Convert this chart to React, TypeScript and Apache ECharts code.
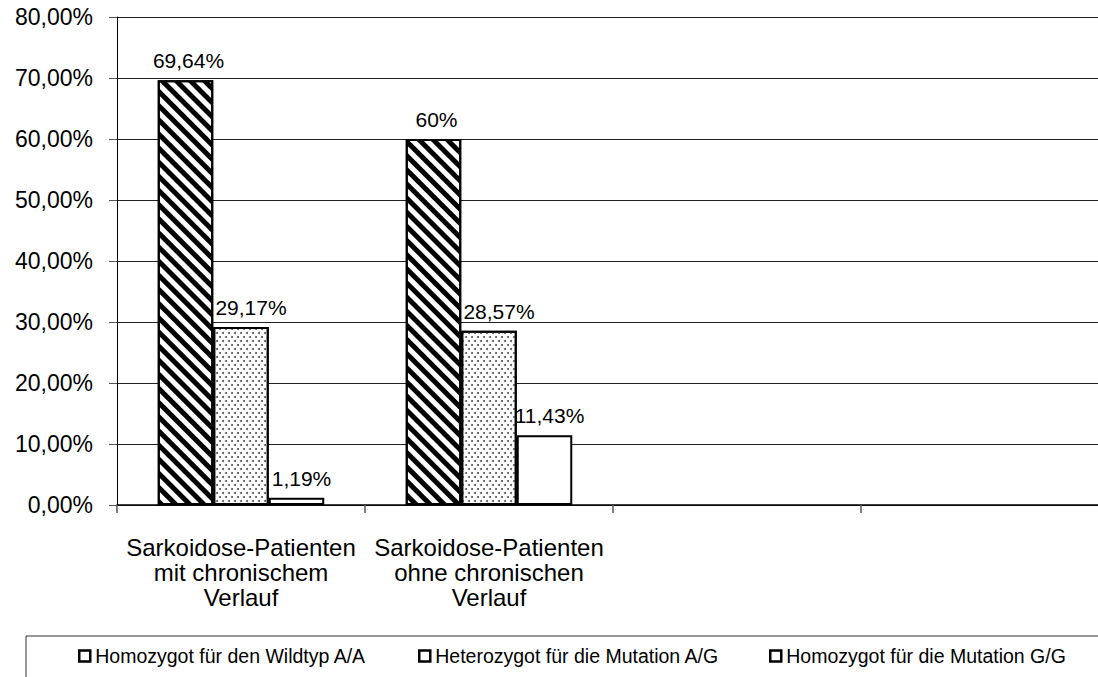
import React, { useEffect, useRef } from "react";
import * as echarts from "echarts";

const categories = [
  "Sarkoidose-Patienten\nmit chronischem\nVerlauf",
  "Sarkoidose-Patienten\nohne chronischen\nVerlauf",
  "",
  "",
];
const seriesNames = [
  "Homozygot für den Wildtyp A/A",
  "Heterozygot für die Mutation A/G",
  "Homozygot für die Mutation G/G",
];
const wildtypAA = [69.64, 60, null, null];
const heteroAG = [29.17, 28.57, null, null];
const homoGG = [1.19, 11.43, null, null];
const wildtypLabels = ["69,64%", "60%", "", ""];
const heteroLabels = ["29,17%", "28,57%", "", ""];
const homoLabels = ["1,19%", "11,43%", "", ""];
const yTicks = [0, 10, 20, 30, 40, 50, 60, 70, 80];

const FONT = "'Liberation Sans', Arial, Helvetica, sans-serif";

export default function App() {
  const ref = useRef<HTMLDivElement>(null);
  useEffect(() => {
    if (!ref.current) return;
    const chart = echarts.init(ref.current, null, { renderer: "svg" });
    const stripeDecal = {
      symbol: "rect",
      symbolSize: 1,
      color: "#000",
      backgroundColor: "#fff",
      dashArrayX: [1, 0],
      dashArrayY: [5, 5],
      rotation: Math.PI / 4,
    };
    const dotDecal = {
      symbol: "circle",
      symbolSize: 1,
      color: "#555",
      backgroundColor: "#fff",
      dashArrayX: [
        [2, 4],
        [0, 3, 2, 1],
      ],
      dashArrayY: [2, 2],
      rotation: 0,
    };
    const mkLabel = (labels: string[], dx: number) => ({
      show: true,
      position: "top",
      distance: 9,
      offset: [dx, 0],
      fontSize: 21,
      fontFamily: FONT,
      color: "#000",
      formatter: (p: any) => labels[p.dataIndex],
    });
    const base = {
      type: "bar",
      barWidth: 55.5,
      barGap: "0%",
    };
    const legendAt = (name: string, left: number) => ({
      show: true,
      left,
      top: 646,
      padding: 0,
      icon: "rect",
      itemWidth: 11,
      itemHeight: 11,
      itemGap: 6,
      selectedMode: false,
      textStyle: { fontSize: 19.5, fontFamily: FONT, color: "#000" },
      data: [
        {
          name,
          itemStyle: { color: "#fff", borderColor: "#000", borderWidth: 2.5, decal: "none" },
        },
      ],
    });
    chart.setOption({
      animation: false,
      textStyle: { fontFamily: FONT },
      grid: {
        left: 117,
        top: 17,
        width: 992,
        bottom: 172,
        containLabel: false,
        outerBoundsMode: "none",
      },
      legend: [
        legendAt(seriesNames[0], 78),
        legendAt(seriesNames[1], 418),
        legendAt(seriesNames[2], 769),
      ],
      xAxis: {
        type: "category",
        data: categories,
        axisLine: { show: true, lineStyle: { color: "#000", width: 1.5 } },
        axisTick: { show: true, length: 8, lineStyle: { color: "#555", width: 1.5 } },
        axisLabel: {
          interval: 0,
          margin: 30,
          fontSize: 24,
          lineHeight: 25,
          color: "#000",
          fontFamily: FONT,
        },
        splitLine: { show: false },
      },
      yAxis: {
        type: "value",
        min: 0,
        max: 80,
        interval: 10,
        axisLine: { show: true, lineStyle: { color: "#000", width: 1 } },
        axisTick: { show: true, length: 8, lineStyle: { color: "#555" } },
        axisLabel: {
          margin: 24,
          fontSize: 23,
          color: "#000",
          fontFamily: FONT,
          formatter: (v: number) =>
            yTicks.includes(v) ? v.toFixed(2).replace(".", ",") + "%" : "",
        },
        splitLine: { show: true, lineStyle: { color: "#222", width: 1 } },
      },
      series: [
        {
          ...base,
          name: seriesNames[0],
          data: wildtypAA,
          itemStyle: { color: "#fff", borderColor: "#000", borderWidth: 2, decal: stripeDecal },
          label: mkLabel(wildtypLabels, 3),
        },
        {
          ...base,
          name: seriesNames[1],
          data: heteroAG,
          itemStyle: { color: "#fff", borderColor: "#000", borderWidth: 2, decal: dotDecal },
          label: mkLabel(heteroLabels, 10),
        },
        {
          ...base,
          name: seriesNames[2],
          data: homoGG,
          itemStyle: { color: "#fff", borderColor: "#000", borderWidth: 2 },
          label: mkLabel(homoLabels, 5),
        },
      ],
      graphic: [
        {
          type: "rect",
          shape: { x: 26, y: 636, width: 1100, height: 100 },
          style: { fill: "none", stroke: "#333", lineWidth: 1 },
          silent: true,
        },
      ],
    });
    return () => chart.dispose();
  }, []);
  return (
    <div
      ref={ref}
      style={{ position: "fixed", left: 0, top: 0, width: 1098, height: 677, background: "#fff" }}
    />
  );
}
